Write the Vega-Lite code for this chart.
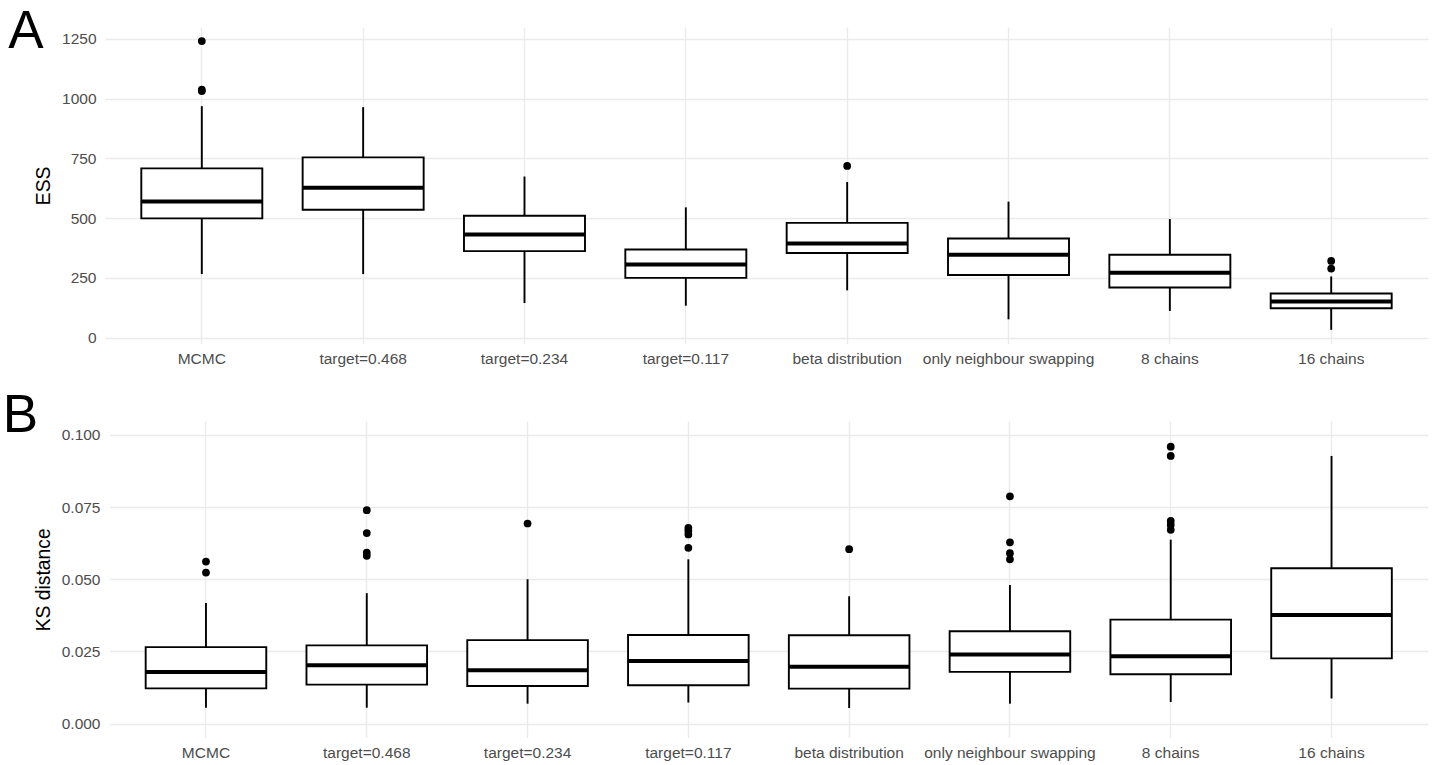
{
  "$schema": "https://vega.github.io/schema/vega-lite/v6.json",
  "autosize": {"type": "pad"},
  "padding": {"left": 2, "top": 6, "right": 5, "bottom": 0},
  "background": "white",
  "config": {
    "view": {"stroke": null},
    "font": "Liberation Sans",
    "axis": {
      "domain": false, "ticks": false, "tickSize": 0,
      "labelFont": "Liberation Sans", "labelFontSize": 15.5, "labelColor": "#4d4d4d",
      "titleFont": "Liberation Sans", "titleFontSize": 19.3, "titleFontWeight": "normal", "titleColor": "#000000",
      "gridColor": "#ebebeb"
    },
    "title": {"font": "Liberation Sans", "fontSize": 53, "fontWeight": "normal", "color": "#000000", "anchor": "start", "frame": "group", "baseline": "alphabetic"}
  },
  "datasets": {
    "essBox": [
      {"method": "MCMC", "lower": 266, "q1": 499, "median": 570, "q3": 708, "upper": 968},
      {"method": "target=0.468", "lower": 266, "q1": 535, "median": 627, "q3": 754, "upper": 964},
      {"method": "target=0.234", "lower": 145, "q1": 362, "median": 432, "q3": 510, "upper": 674},
      {"method": "target=0.117", "lower": 134, "q1": 250, "median": 306, "q3": 369, "upper": 545},
      {"method": "beta distribution", "lower": 198, "q1": 354, "median": 394, "q3": 480, "upper": 651},
      {"method": "only neighbour swapping", "lower": 77, "q1": 262, "median": 347, "q3": 415, "upper": 569},
      {"method": "8 chains", "lower": 112, "q1": 210, "median": 272, "q3": 347, "upper": 496},
      {"method": "16 chains", "lower": 33, "q1": 123, "median": 151, "q3": 185, "upper": 256}
    ],
    "essOut": [
      {"method": "MCMC", "value": 1240},
      {"method": "MCMC", "value": 1037},
      {"method": "MCMC", "value": 1031},
      {"method": "beta distribution", "value": 718},
      {"method": "16 chains", "value": 321},
      {"method": "16 chains", "value": 289}
    ],
    "ksBox": [
      {"method": "MCMC", "lower": 0.0055, "q1": 0.0122, "median": 0.0179, "q3": 0.0265, "upper": 0.0418},
      {"method": "target=0.468", "lower": 0.0055, "q1": 0.0135, "median": 0.0202, "q3": 0.0271, "upper": 0.0452},
      {"method": "target=0.234", "lower": 0.0069, "q1": 0.0130, "median": 0.0185, "q3": 0.0289, "upper": 0.0500},
      {"method": "target=0.117", "lower": 0.0073, "q1": 0.0133, "median": 0.0217, "q3": 0.0307, "upper": 0.0569},
      {"method": "beta distribution", "lower": 0.0054, "q1": 0.0121, "median": 0.0197, "q3": 0.0306, "upper": 0.0441},
      {"method": "only neighbour swapping", "lower": 0.0069, "q1": 0.0179, "median": 0.0239, "q3": 0.0320, "upper": 0.0480},
      {"method": "8 chains", "lower": 0.0075, "q1": 0.0171, "median": 0.0233, "q3": 0.0360, "upper": 0.0637},
      {"method": "16 chains", "lower": 0.0087, "q1": 0.0226, "median": 0.0376, "q3": 0.0538, "upper": 0.0927}
    ],
    "ksOut": [
      {"method": "MCMC", "value": 0.0561},
      {"method": "MCMC", "value": 0.0523},
      {"method": "target=0.468", "value": 0.0739},
      {"method": "target=0.468", "value": 0.0660},
      {"method": "target=0.468", "value": 0.0592},
      {"method": "target=0.468", "value": 0.0581},
      {"method": "target=0.234", "value": 0.0693},
      {"method": "target=0.117", "value": 0.0678},
      {"method": "target=0.117", "value": 0.0668},
      {"method": "target=0.117", "value": 0.0655},
      {"method": "target=0.117", "value": 0.0609},
      {"method": "beta distribution", "value": 0.0604},
      {"method": "only neighbour swapping", "value": 0.0787},
      {"method": "only neighbour swapping", "value": 0.0628},
      {"method": "only neighbour swapping", "value": 0.0590},
      {"method": "only neighbour swapping", "value": 0.0569},
      {"method": "8 chains", "value": 0.0959},
      {"method": "8 chains", "value": 0.0927},
      {"method": "8 chains", "value": 0.0702},
      {"method": "8 chains", "value": 0.0688},
      {"method": "8 chains", "value": 0.0671}
    ]
  },
  "columns": 1,
  "align": "all",
  "spacing": 22,
  "concat": [
    {
      "title": {"text": "A", "offset": -32, "dx": -96.7},
      "width": 1323,
      "height": 316.7,
      "encoding": {
        "x": {"field": "method", "type": "nominal",
          "sort": ["MCMC", "target=0.468", "target=0.234", "target=0.117", "beta distribution", "only neighbour swapping", "8 chains", "16 chains"],
          "scale": {"paddingInner": 0.25, "paddingOuter": 0.225},
          "axis": {"title": null, "labelAngle": 0, "labelPadding": 8, "grid": true, "gridWidth": 1.4, "bandPosition": 0.5}}
      },
      "layer": [
        {
          "data": {"name": "essBox"},
          "mark": {"type": "rule", "color": "#000000", "strokeWidth": 1.9},
          "encoding": {
            "y": {"field": "lower", "type": "quantitative",
              "scale": {"domain": [-25, 1299], "nice": false, "zero": false},
              "axis": {"title": "ESS", "values": [0, 125, 250, 375, 500, 625, 750, 875, 1000, 1125, 1250],
                "format": "d", "labelExpr": "datum.value % 250 === 0 ? datum.label : ''",
                "labelPadding": 9, "titlePadding": 8,
                "gridWidth": {"condition": {"test": "datum.value % 250 === 0", "value": 1.4}, "value": 0.8}}},
            "y2": {"field": "upper"}
          }
        },
        {
          "data": {"name": "essBox"},
          "mark": {"type": "bar", "fill": "#ffffff", "stroke": "#000000", "strokeWidth": 1.9},
          "encoding": {
            "y": {"field": "q1", "type": "quantitative"},
            "y2": {"field": "q3"}
          }
        },
        {
          "data": {"name": "essBox"},
          "mark": {"type": "tick", "color": "#000000", "opacity": 1, "thickness": 4, "size": 121, "orient": "horizontal"},
          "encoding": {
            "y": {"field": "median", "type": "quantitative"}
          }
        },
        {
          "data": {"name": "essOut"},
          "mark": {"type": "circle", "color": "#000000", "opacity": 1, "size": 60},
          "encoding": {
            "y": {"field": "value", "type": "quantitative"}
          }
        }
      ]
    },
    {
      "title": {"text": "B", "offset": -22.2, "dx": -102.2},
      "width": 1323,
      "height": 316.6,
      "encoding": {
        "x": {"field": "method", "type": "nominal",
          "sort": ["MCMC", "target=0.468", "target=0.234", "target=0.117", "beta distribution", "only neighbour swapping", "8 chains", "16 chains"],
          "scale": {"paddingInner": 0.25, "paddingOuter": 0.225, "range": [4.5, 1323]},
          "axis": {"title": null, "labelAngle": 0, "labelPadding": 8, "grid": true, "gridWidth": 1.4, "bandPosition": 0.5}}
      },
      "layer": [
        {
          "data": {"name": "ksBox"},
          "mark": {"type": "rule", "color": "#000000", "strokeWidth": 1.9},
          "encoding": {
            "y": {"field": "lower", "type": "quantitative",
              "scale": {"domain": [-0.00485, 0.1048], "nice": false, "zero": false},
              "axis": {"title": "KS distance", "values": [0, 0.0125, 0.025, 0.0375, 0.05, 0.0625, 0.075, 0.0875, 0.1],
                "format": ".3f", "labelExpr": "abs(datum.value * 40 - round(datum.value * 40)) < 0.000001 ? datum.label : ''",
                "labelPadding": 5, "titlePadding": 8,
                "gridWidth": {"condition": {"test": "abs(datum.value * 40 - round(datum.value * 40)) < 0.000001", "value": 1.4}, "value": 0.8}}},
            "y2": {"field": "upper"}
          }
        },
        {
          "data": {"name": "ksBox"},
          "mark": {"type": "bar", "fill": "#ffffff", "stroke": "#000000", "strokeWidth": 1.9},
          "encoding": {
            "y": {"field": "q1", "type": "quantitative"},
            "y2": {"field": "q3"}
          }
        },
        {
          "data": {"name": "ksBox"},
          "mark": {"type": "tick", "color": "#000000", "opacity": 1, "thickness": 4, "size": 121, "orient": "horizontal"},
          "encoding": {
            "y": {"field": "median", "type": "quantitative"}
          }
        },
        {
          "data": {"name": "ksOut"},
          "mark": {"type": "circle", "color": "#000000", "opacity": 1, "size": 60},
          "encoding": {
            "y": {"field": "value", "type": "quantitative"}
          }
        }
      ]
    }
  ]
}
